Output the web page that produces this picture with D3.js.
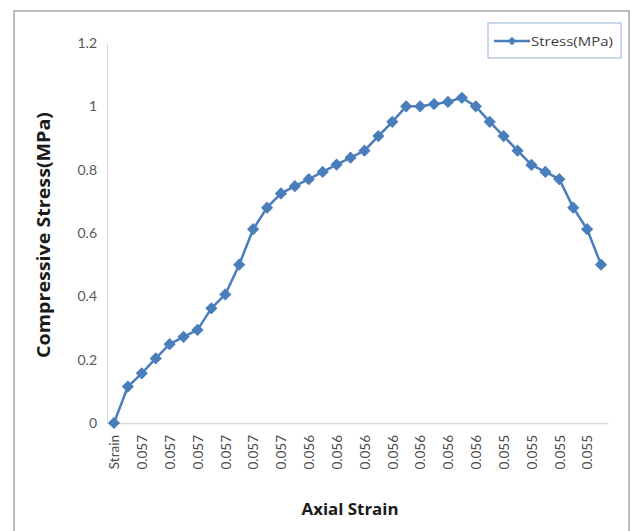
<!DOCTYPE html>
<html><head><meta charset="utf-8">
<script src="https://cdn.jsdelivr.net/npm/d3@7"></script>
<style>body{margin:0;background:#fff;} svg{display:block;}</style>
</head><body>
<svg id="c" width="631" height="531"></svg>
<script>
const categories = ["Strain","0.057","0.057","0.057","0.057","0.057","0.057","0.057","0.057","0.057","0.057","0.057","0.057","0.057",
"0.056","0.056","0.056","0.056","0.056","0.056","0.056","0.056","0.056","0.056","0.056","0.056","0.056","0.056",
"0.055","0.055","0.055","0.055","0.055","0.055","0.055","0.055"];
const stress = [0,0.115,0.157,0.204,0.249,0.272,0.294,0.362,0.406,0.5,0.612,0.68,0.725,0.748,0.77,0.793,0.816,0.838,0.86,0.906,0.951,1.0,1.0,1.007,1.014,1.027,1.0,0.951,0.906,0.86,0.815,0.793,0.77,0.68,0.612,0.5];
const yTicks = [0,0.2,0.4,0.6,0.8,1,1.2];
const seriesName = "Stress(MPa)";
const xTitle = "Axial Strain", yTitle = "Compressive Stress(MPa)";

const font = "Lato, 'Open Sans', sans-serif";
const tfont = "'Open Sans', Lato, sans-serif";
const blue = "#4a7ebb";
const svg = d3.select("#c");
svg.append("rect").attr("x",14).attr("y",11).attr("width",615).attr("height",530)
  .attr("fill","#fff").attr("stroke","#a6a6a6").attr("stroke-width",1.5);

const idx = categories.map((d,i)=>i);
const x = d3.scalePoint().domain(idx).range([107,608]).padding(0.5);
const y = d3.scaleLinear().domain([0,1.2]).range([423,43]);

// y axis
const ya = svg.append("g").attr("transform","translate(107,0)")
  .call(d3.axisLeft(y).tickValues(yTicks).tickSize(0).tickPadding(10).tickFormat(d=>String(d)));
ya.select(".domain").attr("stroke","#d9d9d9").attr("stroke-width",1);
ya.selectAll("text").attr("font-family",font).attr("font-size",14).attr("fill","#595959");

// x axis
const xa = svg.append("g").attr("transform","translate(0,423)")
  .call(d3.axisBottom(x).tickValues(idx.filter(i=>i%2===0)).tickSize(0).tickFormat(i=>categories[i]));
xa.select(".domain").attr("stroke","#d9d9d9").attr("stroke-width",1.5);
xa.selectAll("text").attr("font-family",font).attr("font-size",13.5).attr("fill","#4d4d4d")
  .attr("transform","rotate(-90)").attr("text-anchor","end").attr("dy","0.35em").attr("x",-12).attr("y",0);

// line
svg.append("path").datum(stress)
  .attr("d", d3.line().x((d,i)=>x(i)).y(d=>y(d)))
  .attr("fill","none").attr("stroke",blue).attr("stroke-width",2.5).attr("stroke-linejoin","round");

const diamond = d3.symbol().type(d3.symbolDiamond2).size(95);
svg.append("g").selectAll("path").data(stress).join("path")
  .attr("transform",(d,i)=>`translate(${x(i)},${y(d)})`)
  .attr("d",diamond).attr("fill",blue);

// titles
svg.append("text").attr("x",350).attr("y",515).attr("text-anchor","middle")
  .attr("font-family",tfont).attr("font-weight","bold").attr("font-size",16).attr("fill","#1a1a1a")
  .attr("textLength",97).attr("lengthAdjust","spacingAndGlyphs").text(xTitle);
svg.append("text").attr("transform","translate(50,235) rotate(-90)").attr("text-anchor","middle")
  .attr("font-family",tfont).attr("font-weight","bold").attr("font-size",17).attr("fill","#1a1a1a")
  .attr("textLength",246).attr("lengthAdjust","spacingAndGlyphs").text(yTitle);

// legend
const lg = svg.append("g");
lg.append("rect").attr("x",488).attr("y",23).attr("width",133).attr("height",35)
  .attr("fill","#fff").attr("stroke","#a9bedb").attr("stroke-width",1.2);
lg.append("line").attr("x1",494).attr("x2",530).attr("y1",41).attr("y2",41).attr("stroke",blue).attr("stroke-width",2.5);
lg.append("path").attr("transform","translate(512,41)").attr("d",d3.symbol().type(d3.symbolDiamond2).size(45)).attr("fill",blue);
lg.append("text").attr("x",531).attr("y",41).attr("dy","0.35em").attr("font-family",tfont).attr("font-size",13).attr("fill","#404040")
  .attr("textLength",82).attr("lengthAdjust","spacingAndGlyphs").text(seriesName);
</script>
</body></html>
